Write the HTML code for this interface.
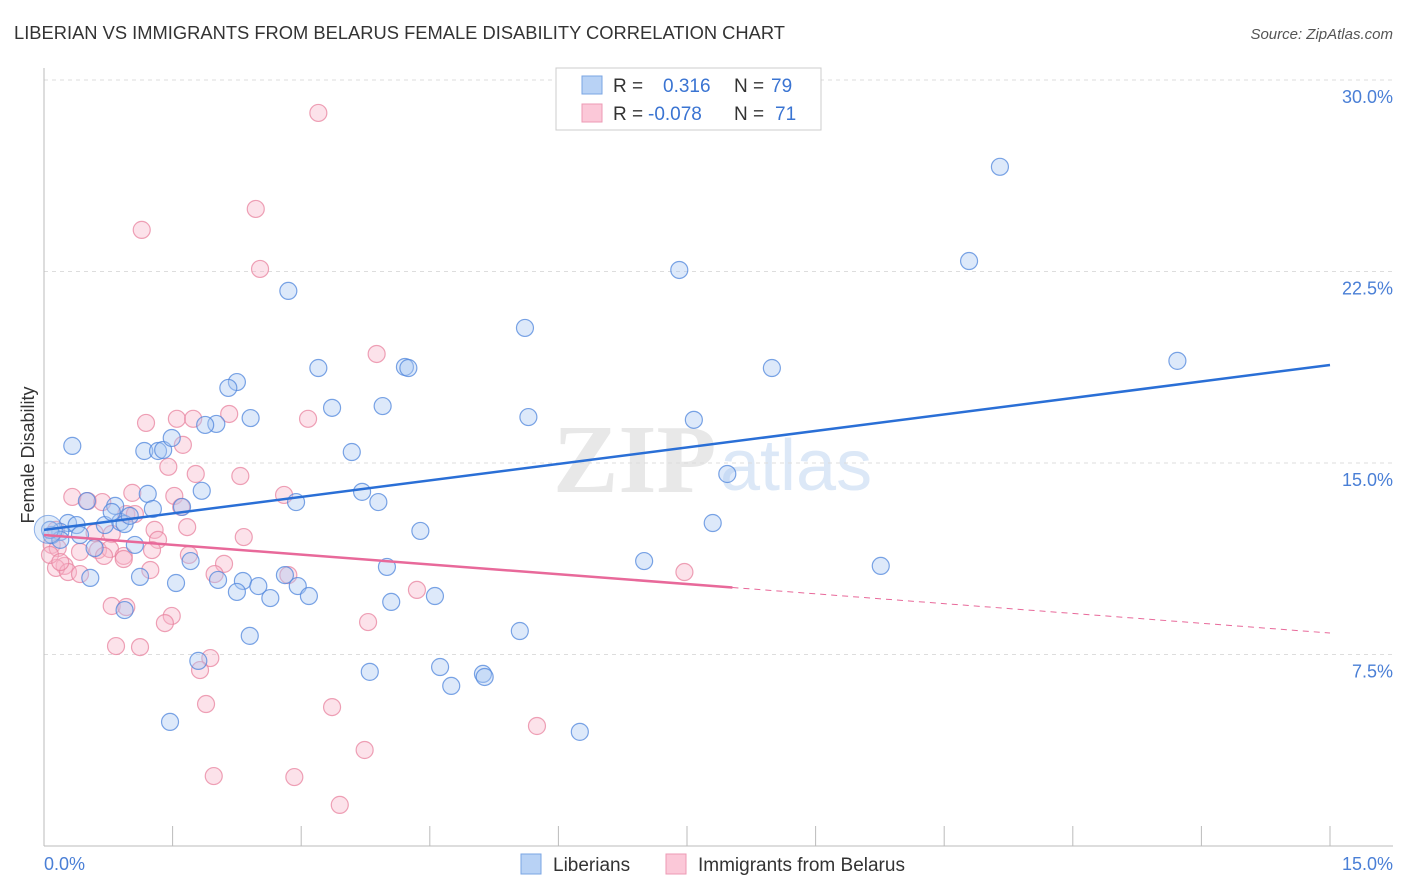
<!DOCTYPE html>
<html><head><meta charset="utf-8"><style>
body{margin:0;background:#fff;font-family:"Liberation Sans",sans-serif;}
svg{display:block}
</style></head><body>
<svg id="chart" width="1406" height="892">
<text x="14" y="39" font-size="18" fill="#333" textLength="771" lengthAdjust="spacingAndGlyphs">LIBERIAN VS IMMIGRANTS FROM BELARUS FEMALE DISABILITY CORRELATION CHART</text>
<text x="1393" y="39" font-size="15" fill="#555" font-style="italic" text-anchor="end">Source: ZipAtlas.com</text>
<text x="553" y="492" font-size="98" fill="#e8e8e8" font-family="Liberation Serif" font-weight="bold">ZIP</text>
<text x="720" y="490" font-size="72" fill="#dce8f7">atlas</text>
<g id="grid"></g><g id="axes"></g><g id="marks"></g>
<text transform="translate(34,455) rotate(-90)" font-size="18" fill="#333" text-anchor="middle">Female Disability</text>
<text x="44" y="870" font-size="18" fill="#4a7fd6">0.0%</text>
<text x="1393" y="870" font-size="18" fill="#4a7fd6" text-anchor="end">15.0%</text>
<g>
<rect x="556" y="68" width="265" height="62" fill="#fff" stroke="#ccc"/>
<rect x="582" y="76" width="20" height="18" fill="#b8d2f5" stroke="#7aa5e3"/>
<rect x="582" y="104" width="20" height="18" fill="#fbc8d8" stroke="#ec9ab4"/>
<text x="613" y="92" font-size="19" fill="#333">R =</text><text x="663" y="92" font-size="19" fill="#3a74d2">0.316</text>
<text x="734" y="92" font-size="19" fill="#333">N =</text><text x="771" y="92" font-size="19" fill="#3a74d2">79</text>
<text x="613" y="120" font-size="19" fill="#333">R =</text><text x="648" y="120" font-size="19" fill="#3a74d2">-0.078</text>
<text x="734" y="120" font-size="19" fill="#333">N =</text><text x="775" y="120" font-size="19" fill="#3a74d2">71</text>
</g>
<g>
<rect x="521" y="854" width="20" height="20" fill="#b8d2f5" stroke="#7aa5e3"/>
<text x="553" y="871" font-size="19" fill="#333">Liberians</text>
<rect x="666" y="854" width="20" height="20" fill="#fbc8d8" stroke="#ec9ab4"/>
<text x="698" y="871" font-size="19" fill="#333">Immigrants from Belarus</text>
</g>
</svg>
<script>
const yTicks=[7.5,15,22.5,30];
const xTicks=[0,1.5,3,4.5,6,7.5,9,10.5,12,13.5,15];
const blueX=[11.15,10.79,7.41,2.85,13.22,5.61,8.49,4.21,4.25,3.20,2.25,2.15,3.36,3.95,5.65,7.58,2.41,2.01,1.88,0.33,1.17,1.33,1.39,1.49,3.59,7.97,1.84,1.21,3.71,3.90,2.94,0.50,0.83,1.61,1.27,7.80,4.39,0.28,0.38,0.71,0.89,0.94,1.00,0.79,0.19,0.09,0.42,0.59,1.06,1.71,7.00,9.76,4.00,0.54,1.12,1.54,2.03,2.32,2.50,2.81,2.96,2.25,2.64,3.09,4.56,4.05,0.94,5.55,2.40,1.80,4.62,3.80,5.12,5.14,4.75,1.47,6.25,0.19,0.07];
const blueY=[26.60,22.91,22.56,21.74,19.00,20.29,18.72,18.76,18.72,18.72,18.17,17.94,17.16,17.23,16.80,16.69,16.76,16.53,16.49,15.67,15.47,15.47,15.51,15.98,15.43,14.57,13.91,13.79,13.87,13.47,13.47,13.51,13.32,13.28,13.20,12.65,12.34,12.65,12.57,12.57,12.69,12.61,12.93,13.08,12.30,12.18,12.18,11.67,11.79,11.16,11.16,10.97,10.93,10.50,10.54,10.30,10.42,10.38,10.18,10.61,10.18,9.95,9.71,9.79,9.79,9.56,9.24,8.42,8.23,7.25,7.01,6.82,6.74,6.62,6.27,4.86,4.47,11.99,12.38];
const pinkX=[3.20,2.47,1.14,2.52,3.88,1.19,1.55,1.74,2.16,3.08,1.62,1.45,1.77,2.29,0.33,0.51,0.68,1.03,1.52,1.60,2.80,0.96,1.06,1.67,1.29,1.33,2.33,0.59,0.79,0.14,0.09,0.16,0.42,0.63,0.77,0.70,0.93,1.26,1.69,0.24,0.14,0.28,0.42,0.93,1.24,2.10,2.85,1.99,4.35,7.47,0.79,0.96,1.49,1.41,3.78,0.84,1.12,1.94,1.82,1.89,3.36,5.75,3.74,1.98,2.92,3.45,0.07,0.19];
const pinkY=[28.71,24.95,24.13,22.60,19.27,16.57,16.73,16.73,16.92,16.73,15.71,14.85,14.57,14.49,13.67,13.51,13.47,13.83,13.71,13.28,13.75,13.00,13.00,12.49,12.38,11.99,12.10,12.26,12.22,12.38,11.79,11.67,11.52,11.59,11.63,11.36,11.36,11.59,11.40,10.97,10.89,10.73,10.65,11.24,10.81,11.05,10.61,10.65,10.03,10.73,9.40,9.36,9.01,8.73,8.77,7.83,7.79,7.36,6.89,5.56,5.44,4.70,3.76,2.74,2.70,1.61,11.40,11.12];
const blueTrend=[12.38,18.84];
const pinkTrend=[12.18,8.34];
const pinkSolidEnd=8.03;
const NS='http://www.w3.org/2000/svg';
const X=v=>44+v*(1286/15);
const Y=v=>846-v*(191.5/7.5);
function mk(tag,attrs,parent){const e=document.createElementNS(NS,tag);for(const k in attrs)e.setAttribute(k,attrs[k]);parent.appendChild(e);return e;}
const grid=document.getElementById('grid'),axes=document.getElementById('axes'),marks=document.getElementById('marks');
yTicks.forEach(t=>{
 const l=mk('line',{x1:44,x2:1393,y1:Y(t),y2:Y(t),stroke:'#ddd','stroke-dasharray':'4,4'},grid);
 
 
 const tx=mk('text',{x:1393,y:Y(t)+23,'font-size':18,fill:'#4a7fd6','text-anchor':'end'},grid);
 tx.textContent=t.toFixed(1)+'%';
 
 
});
const ax=mk('line',{x1:44,x2:44,y1:68,y2:846,stroke:'#bbb'},axes);


const bx=mk('line',{x1:44,x2:1393,y1:846,y2:846,stroke:'#bbb'},axes);


xTicks.forEach(t=>{
 const l=mk('line',{x1:X(t),x2:X(t),y1:826,y2:846,stroke:'#bbb'},axes);
 
 
});
function pts(xs,ys,fill,stroke,name){
 xs.forEach((x,i)=>{
  const c=mk('circle',{cx:X(x),cy:Y(ys[i]),r:8.5,fill:fill,'fill-opacity':0.4,stroke:stroke,'stroke-width':1.2,'stroke-opacity':0.75},marks);
  
  
 });
}
pts(pinkX,pinkY,'#f7b6ca','#e8839f','belarus-point');
pts(blueX,blueY,'#a9c9f2','#4f86dc','liberian-point');
const big=mk('circle',{cx:X(0.05),cy:Y(12.4),r:14,fill:'#a9c9f2','fill-opacity':0.35,stroke:'#4f86dc','stroke-opacity':0.6},marks);


const bt=mk('line',{x1:X(0),y1:Y(blueTrend[0]),x2:X(15),y2:Y(blueTrend[1]),stroke:'#2a6fd6','stroke-width':2.5},marks);


const pm=pinkTrend[0]+(pinkTrend[1]-pinkTrend[0])*pinkSolidEnd/15;
const pt=mk('line',{x1:X(0),y1:Y(pinkTrend[0]),x2:X(pinkSolidEnd),y2:Y(pm),stroke:'#e8699a','stroke-width':2.5},marks);


const pd=mk('line',{x1:X(pinkSolidEnd),y1:Y(pm),x2:X(15),y2:Y(pinkTrend[1]),stroke:'#e8699a','stroke-width':1,'stroke-dasharray':'6,5'},marks);


</script>
</body></html>
